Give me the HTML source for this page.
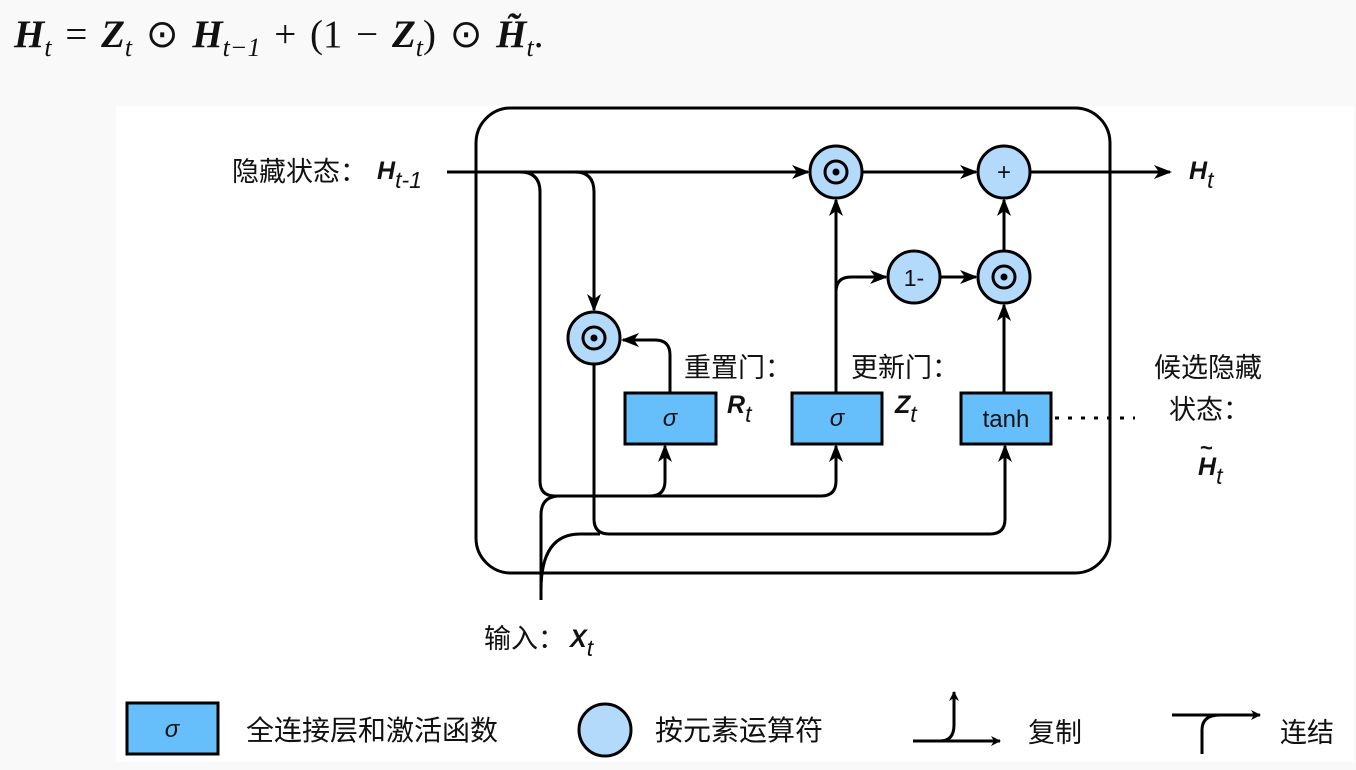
<!DOCTYPE html>
<html><head><meta charset="utf-8"><style>
html,body{margin:0;padding:0;background:#f9f9f9;}
body{width:1356px;height:770px;position:relative;overflow:hidden;}
.eq{position:absolute;left:14px;top:12px;font-family:"Liberation Serif",serif;font-size:39px;color:#111;white-space:nowrap;word-spacing:4px;}
.eq b{font-style:italic;}
.eq sub{font-size:26px;font-style:italic;font-weight:normal;}
svg{position:absolute;left:0;top:0;}
</style></head><body>
<div class="eq"><b>H</b><sub>t</sub> = <b>Z</b><sub>t</sub> ⊙ <b>H</b><sub>t−1</sub> + (1 − <b>Z</b><sub>t</sub>) ⊙ <b>H̃</b><sub>t</sub>.</div>
<svg width="1356" height="770" viewBox="0 0 1356 770">
<defs>
<marker id="a" markerWidth="10" markerHeight="10" refX="9" refY="5" orient="auto" markerUnits="userSpaceOnUse" viewBox="0 0 10 10">
<path d="M0,0 L10,5 L0,10 L3,5 Z" fill="#000"/></marker>
<marker id="b" markerWidth="18" markerHeight="14" refX="16" refY="7" orient="auto" markerUnits="userSpaceOnUse" viewBox="0 0 18 14">
<path d="M0,0 L18,7 L0,14 L5,7 Z" fill="#000"/></marker>
</defs>
<rect x="116" y="106" width="1238" height="656" fill="#fff"/>
<g fill="none" stroke="#000" stroke-width="3">
<rect x="476" y="108" width="634" height="465" rx="35"/>
<path d="M447 172 H808" marker-end="url(#b)"/>
<path d="M862 172 H976" marker-end="url(#b)"/>
<path d="M1030 172 H1170" marker-end="url(#b)"/>
<path d="M520 172 Q540 172 540 192 V481 Q540 496 555 496 H650 Q665 496 665 481 V446" marker-end="url(#b)"/>
<path d="M650 496 H821 Q836 496 836 481 V446" />
<path d="M836 460 V446" marker-end="url(#b)"/>
<path d="M575 172 Q594 172 594 192 V310" marker-end="url(#b)"/>
<path d="M670 393 V355 Q670 340 655 340 H623" marker-end="url(#b)"/>
<path d="M594 364 V519 Q594 534 609 534 H990 Q1005 534 1005 519 V446" marker-end="url(#b)"/>
<path d="M541 600 V515 Q541 496 560 496"/>
<path d="M541 590 Q541 534 580 534 H600"/>
<path d="M836 393 V200" marker-end="url(#b)"/>
<path d="M836 300 V292 Q836 277 851 277 H886" marker-end="url(#b)"/>
<path d="M940 277 H976" marker-end="url(#b)"/>
<path d="M1004 393 V305" marker-end="url(#b)"/>
<path d="M1004 251 V200" marker-end="url(#b)"/>
</g>
<path d="M1055 418 H1135" stroke="#000" stroke-width="3" stroke-dasharray="4,9" fill="none"/>
<g stroke="#000" stroke-width="3" fill="#b3d9fb">
<circle cx="836" cy="172" r="26"/><circle cx="1004" cy="172" r="26"/>
<circle cx="914" cy="277" r="26"/><circle cx="1004" cy="277" r="26"/>
<circle cx="594" cy="338" r="26"/>
<ellipse cx="605" cy="730" rx="26" ry="26"/>
</g>
<g stroke="#000" stroke-width="3" fill="none">
<circle cx="836" cy="172" r="11"/><circle cx="1004" cy="277" r="11"/><circle cx="594" cy="338" r="11"/>
</g>
<g fill="#000"><circle cx="836" cy="172" r="3.5"/><circle cx="1004" cy="277" r="3.5"/><circle cx="594" cy="338" r="3.5"/></g>
<g stroke="#000" stroke-width="3" fill="#66bffa">
<rect x="625" y="393" width="91" height="51"/><rect x="792" y="393" width="90" height="51"/><rect x="961" y="393" width="90" height="51"/>
<rect x="127" y="703" width="91" height="51"/>
</g>
<g font-family="Liberation Sans, Noto Sans CJK SC, sans-serif" fill="#111">
<text x="1004" y="180" font-size="24" text-anchor="middle">+</text>
<text x="914" y="286" font-size="23" text-anchor="middle">1-</text>
<text x="670" y="426" font-size="24" font-style="italic" text-anchor="middle">σ</text>
<text x="837" y="426" font-size="24" font-style="italic" text-anchor="middle">σ</text>
<text x="1006" y="427" font-size="24" text-anchor="middle">tanh</text>
<text x="172" y="737" font-size="24" font-style="italic" text-anchor="middle">σ</text>
<text x="232" y="181" font-size="27">隐藏状态：</text>
<text x="377" y="179" font-size="25" font-weight="bold" font-style="italic">H<tspan font-size="23" dy="9" font-weight="normal">t-1</tspan></text>
<text x="1189" y="179" font-size="25" font-weight="bold" font-style="italic">H<tspan font-size="23" dy="9" font-weight="normal">t</tspan></text>
<text x="684" y="377" font-size="27">重置门：</text>
<text x="727" y="413" font-size="25" font-weight="bold" font-style="italic">R<tspan font-size="23" dy="9" font-weight="normal">t</tspan></text>
<text x="851" y="377" font-size="27">更新门：</text>
<text x="895" y="413" font-size="25" font-weight="bold" font-style="italic">Z<tspan font-size="23" dy="9" font-weight="normal">t</tspan></text>
<text x="1154" y="377" font-size="27">候选隐藏</text>
<text x="1169" y="419" font-size="27">状态：</text>
<text x="1198" y="475" font-size="25" font-weight="bold" font-style="italic">H<tspan font-size="23" dy="9" font-weight="normal">t</tspan></text>
<text x="1200" y="455" font-size="22" font-weight="bold">~</text>
<text x="484" y="648" font-size="27">输入：</text>
<text x="570" y="647" font-size="25" font-weight="bold" font-style="italic">X<tspan font-size="23" dy="9" font-weight="normal">t</tspan></text>
<text x="246" y="740" font-size="28">全连接层和激活函数</text>
<text x="655" y="740" font-size="28">按元素运算符</text>
<text x="1028" y="742" font-size="27">复制</text>
<text x="1280" y="742" font-size="27">连结</text>
</g>
<g fill="none" stroke="#000" stroke-width="3">
<path d="M913 741 H1000" marker-end="url(#a)"/>
<path d="M940 741 Q954 741 954 725 V692" marker-end="url(#a)"/>
<path d="M1172 715 H1260" marker-end="url(#a)"/>
<path d="M1202 754 V730 Q1202 715 1220 715"/>
</g>
</svg>
</body></html>
